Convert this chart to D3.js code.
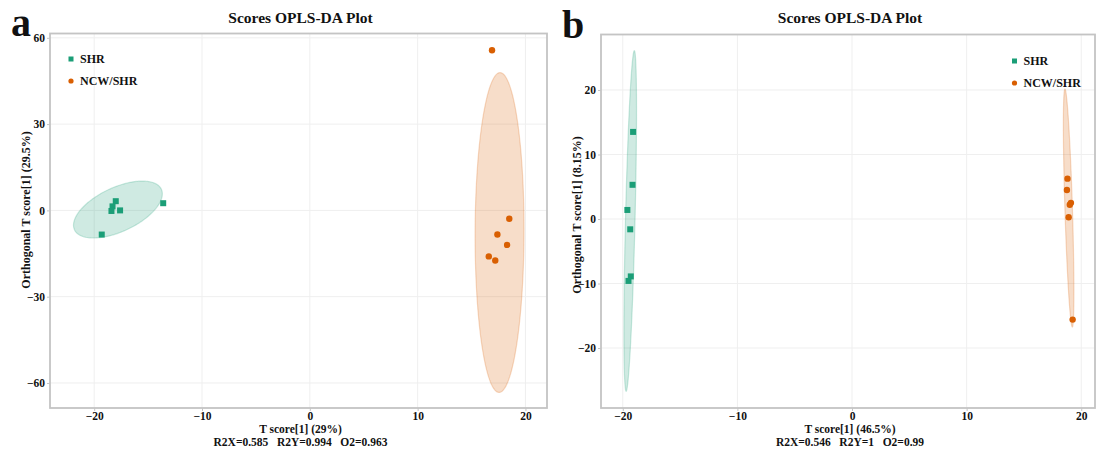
<!DOCTYPE html>
<html>
<head>
<meta charset="utf-8">
<script src="https://cdn.jsdelivr.net/npm/d3@7"></script>
<style>
  body { margin: 0; background: #fff; }
  svg text { font-family: 'Liberation Serif', 'Times New Roman', serif; font-weight: bold; fill: #111; }
</style>
</head>
<body>
<div class="chart"></div>
<script>
// groups + colours
const groups = ['SHR', 'NCW/SHR'];
const colors = ['#1b9e77', '#d95f02'];

// panel a: scores [T score, orthogonal T score]
const aSHR = [[-13.6, 2.5], [-18.0, 3.2], [-18.3, 1.4], [-18.4, -0.2], [-17.6, 0.0], [-19.3, -8.4]];
const aNCW = [[16.9, 55.7], [18.5, -2.9], [17.4, -8.4], [18.3, -12.0], [16.6, -16.0], [17.2, -17.4]];
// confidence ellipses: centre, spread in x / y, correlation
const aEllipses = [
  { cx: -17.8, cy: 0.3, sx: 4.12, sy: 9.9, rho: 0.55 },
  { cx: 17.6, cy: -7.7, sx: 2.27, sy: 55.6, rho: 0.02 }
];
const aXTicks = [-20, -10, 0, 10, 20];
const aYTicks = [-60, -30, 0, 30, 60];

// panel b
const bSHR = [[-19.1, 13.5], [-19.15, 5.3], [-19.6, 1.4], [-19.35, -1.6], [-19.3, -8.9], [-19.5, -9.6]];
const bNCW = [[18.8, 6.25], [18.75, 4.5], [19.1, 2.5], [19.0, 2.2], [18.9, 0.26], [19.25, -15.6]];
const bEllipses = [
  { cx: -19.35, cy: -0.3, sx: 0.55, sy: 26.4, rho: 0.65 },
  { cx: 18.9, cy: 1.7, sx: 0.46, sy: 18.45, rho: -0.7 }
];
const bXTicks = [-20, -10, 0, 10, 20];
const bYTicks = [-20, -10, 0, 10, 20];

const panels = [
  {
    letter: 'a', letterPos: [11, 35.5], box: { left: 50, right: 547, top: 33.5, bottom: 408 },
    xDomain: [-24.1, 22.0], yDomain: [-68.7, 61.5],
    series: [aSHR, aNCW], ellipses: aEllipses, xTicks: aXTicks, yTicks: aYTicks,
    yLabel: 'Orthogonal T score[1] (29.5%)', xLabel: 'T score[1] (29%)',
    stats: 'R2X=0.585\u00a0\u00a0 R2Y=0.994\u00a0\u00a0 O2=0.963',
    legend: { x: 71, y: 59 }, yLabelX: 26, yLabelY: 210
  },
  {
    letter: 'b', letterPos: [562, 37.5], box: { left: 601, right: 1095, top: 34.5, bottom: 408 },
    xDomain: [-21.9, 21.2], yDomain: [-29.3, 28.6],
    series: [bSHR, bNCW], ellipses: bEllipses, xTicks: bXTicks, yTicks: bYTicks,
    yLabel: 'Orthogonal T score[1] (8.15%)', xLabel: 'T score[1] (46.5%)',
    stats: 'R2X=0.546\u00a0\u00a0 R2Y=1\u00a0\u00a0 O2=0.99',
    legend: { x: 1014.5, y: 61 }, yLabelX: 577, yLabelY: 215
  }
];

const svg = d3.select('.chart')
  .append('svg')
  .attr('width', 1096)
  .attr('height', 455);

panels.forEach(p => draw(p));

function draw(p) {
  const b = p.box;
  const x = d3.scaleLinear().domain(p.xDomain).range([b.left, b.right]);
  const y = d3.scaleLinear().domain(p.yDomain).range([b.bottom, b.top]);
  const g = svg.append('g');

  // grid
  g.append('g').selectAll('line').data(p.xTicks).join('line')
    .attr('x1', d => x(d)).attr('x2', d => x(d))
    .attr('y1', b.top).attr('y2', b.bottom)
    .attr('stroke', '#efefef').attr('stroke-width', 1);
  g.append('g').selectAll('line').data(p.yTicks).join('line')
    .attr('y1', d => y(d)).attr('y2', d => y(d))
    .attr('x1', b.left).attr('x2', b.right)
    .attr('stroke', '#efefef').attr('stroke-width', 1);

  // ellipses
  const steps = d3.range(0, 2 * Math.PI + 0.001, Math.PI / 90);
  const line = d3.line();
  p.ellipses.forEach((e, i) => {
    const pts = steps.map(t => [
      x(e.cx + e.sx * Math.cos(t)),
      y(e.cy + e.sy * (e.rho * Math.cos(t) + Math.sqrt(1 - e.rho * e.rho) * Math.sin(t)))
    ]);
    g.append('path')
      .attr('d', line(pts) + 'Z')
      .attr('fill', colors[i]).attr('fill-opacity', 0.21)
      .attr('stroke', colors[i]).attr('stroke-opacity', 0.22).attr('stroke-width', 1.2);
  });

  // points
  g.append('g').selectAll('rect').data(p.series[0]).join('rect')
    .attr('x', d => x(d[0]) - 3).attr('y', d => y(d[1]) - 3)
    .attr('width', 6).attr('height', 6)
    .attr('fill', colors[0]);
  g.append('g').selectAll('circle').data(p.series[1]).join('circle')
    .attr('cx', d => x(d[0])).attr('cy', d => y(d[1]))
    .attr('r', 3.2)
    .attr('fill', colors[1]);

  // frame
  g.append('rect')
    .attr('x', b.left).attr('y', b.top)
    .attr('width', b.right - b.left).attr('height', b.bottom - b.top)
    .attr('fill', 'none').attr('stroke', '#c4c4c4').attr('stroke-width', 1.8);

  // axes
  const xAxis = d3.axisBottom(x).tickValues(p.xTicks).tickSize(3).tickPadding(1).tickFormat(d3.format('d'));
  const yAxis = d3.axisLeft(y).tickValues(p.yTicks).tickSize(3).tickPadding(2).tickFormat(d3.format('d'));
  const gx = g.append('g').attr('transform', `translate(0, ${b.bottom})`).call(xAxis);
  const gy = g.append('g').attr('transform', `translate(${b.left}, 0)`).call(yAxis);
  [gx, gy].forEach(a => {
    a.select('.domain').remove();
    a.selectAll('line').attr('stroke', '#c4c4c4');
    a.selectAll('text').attr('font-size', 11.5).attr('fill', '#111')
      .style('font-family', "'Liberation Serif', serif").style('font-weight', 'bold');
  });

  // titles + labels
  const cx = (b.left + b.right) / 2;
  g.append('text').attr('x', cx + 2).attr('y', 23).attr('text-anchor', 'middle')
    .attr('font-size', 15.5).text('Scores OPLS-DA Plot');
  g.append('text').attr('x', p.letterPos[0]).attr('y', p.letterPos[1])
    .attr('font-size', 40).text(p.letter);
  g.append('text').attr('x', cx + 2).attr('y', 433.4).attr('text-anchor', 'middle')
    .attr('font-size', 11.5).text(p.xLabel);
  g.append('text').attr('x', cx + 2).attr('y', 446.2).attr('text-anchor', 'middle')
    .attr('font-size', 11.5).text(p.stats);
  g.append('text')
    .attr('transform', `translate(${p.yLabelX + 4}, ${p.yLabelY}) rotate(-90)`)
    .attr('text-anchor', 'middle').attr('font-size', 12).text(p.yLabel);

  // legend
  const lg = g.append('g').attr('transform', `translate(${p.legend.x}, ${p.legend.y})`);
  lg.append('rect').attr('x', -2.5).attr('y', -2.5).attr('width', 5).attr('height', 5).attr('fill', colors[0]);
  lg.append('circle').attr('cx', 0).attr('cy', 22).attr('r', 2.6).attr('fill', colors[1]);
  groups.forEach((name, i) => {
    lg.append('text').attr('x', 9).attr('y', i * 22 + 4).attr('font-size', 12).text(name);
  });
}
</script>
</body>
</html>
